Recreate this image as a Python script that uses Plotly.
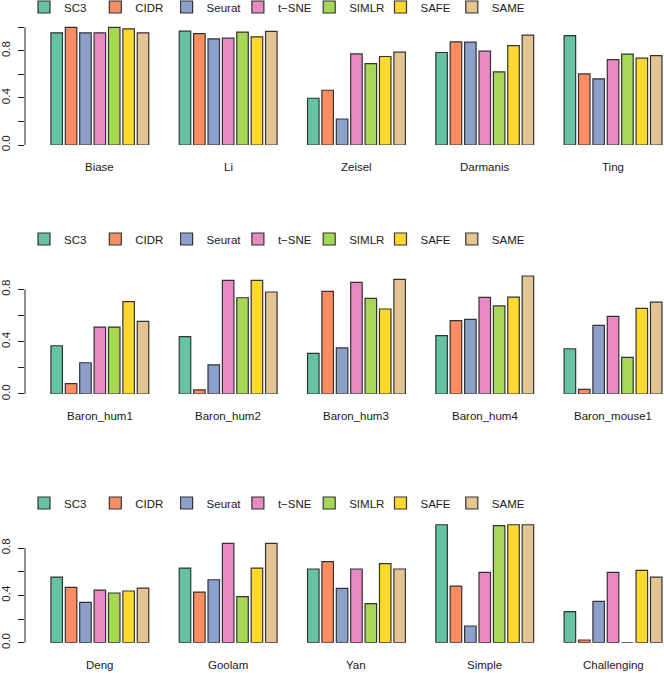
import plotly.graph_objects as go

methods = ["SC3", "CIDR", "Seurat", "t\u2212SNE", "SIMLR", "SAFE", "SAME"]
colors = ["#66C2A5", "#FC8D62", "#8DA0CB", "#E78AC3", "#A6D854", "#FFD92F", "#E5C494"]

row1_datasets = ["Biase", "Li", "Zeisel", "Darmanis", "Ting"]
row1_values = {
    "SC3":    [0.953, 0.967, 0.397, 0.786, 0.930],
    "CIDR":   [1.000, 0.947, 0.465, 0.877, 0.604],
    "Seurat": [0.953, 0.902, 0.221, 0.874, 0.562],
    "t-SNE":  [0.953, 0.908, 0.774, 0.797, 0.726],
    "SIMLR":  [1.000, 0.959, 0.692, 0.621, 0.772],
    "SAFE":   [0.987, 0.919, 0.752, 0.845, 0.738],
    "SAME":   [0.953, 0.965, 0.789, 0.933, 0.760],
}

row2_datasets = ["Baron_hum1", "Baron_hum2", "Baron_hum3", "Baron_hum4", "Baron_mouse1"]
row2_values = {
    "SC3":    [0.369, 0.438, 0.311, 0.446, 0.346],
    "CIDR":   [0.079, 0.031, 0.785, 0.561, 0.036],
    "Seurat": [0.239, 0.222, 0.352, 0.571, 0.525],
    "t-SNE":  [0.512, 0.869, 0.854, 0.739, 0.594],
    "SIMLR":  [0.512, 0.736, 0.731, 0.673, 0.280],
    "SAFE":   [0.706, 0.869, 0.650, 0.741, 0.655],
    "SAME":   [0.555, 0.780, 0.876, 0.902, 0.703],
}

row3_datasets = ["Deng", "Goolam", "Yan", "Simple", "Challenging"]
row3_values = {
    "SC3":    [0.555, 0.631, 0.623, 0.997, 0.262],
    "CIDR":   [0.468, 0.428, 0.685, 0.479, 0.023],
    "Seurat": [0.341, 0.532, 0.459, 0.141, 0.349],
    "t-SNE":  [0.445, 0.839, 0.623, 0.594, 0.594],
    "SIMLR":  [0.420, 0.389, 0.330, 0.989, 0.0],
    "SAFE":   [0.437, 0.631, 0.668, 0.997, 0.611],
    "SAME":   [0.462, 0.839, 0.623, 0.997, 0.555],
}

row1_ticks = [0.0, 0.2, 0.4, 0.6, 0.8, 1.0]
row2_ticks = [0.0, 0.2, 0.4, 0.6, 0.8]
row3_ticks = [0.0, 0.2, 0.4, 0.6, 0.8]

W, H = 664, 673
FONT = "Liberation Sans, Arial, sans-serif"
TXT = "#1a1a1a"

rows = [
    # datasets, values, ticks, zero_px, unit_px, yrange_max, legend_center_px
    (row1_datasets, row1_values, row1_ticks, 145.0, 117.7, 1.04, 7.0),
    (row2_datasets, row2_values, row2_ticks, 394.0, 130.8, 0.94, 239.0),
    (row3_datasets, row3_values, row3_ticks, 642.7, 118.3, 1.04, 503.0),
]
keys = ["SC3", "CIDR", "Seurat", "t-SNE", "SIMLR", "SAFE", "SAME"]

fig = go.Figure()
layout = dict(
    width=W, height=H,
    margin=dict(l=0, r=0, t=0, b=0, autoexpand=False),
    paper_bgcolor="white", plot_bgcolor="white",
    barmode="group", bargap=0.215, bargroupgap=0.2,
    font=dict(family=FONT, size=12, color=TXT),
    shapes=[], annotations=[],
)

# x mapping: group i centre at pixel 99.85 + 128.3*i, plot area from px 25 to 664
x_left_px, x_right_px = 25.0, 664.0
c0, pitch = 99.85, 128.3
xr = [(x_left_px - c0) / pitch, (x_right_px - c0) / pitch]

for r, (datasets, values, ticks, zpx, upx, rmax, legpx) in enumerate(rows):
    idx = "" if r == 0 else str(r + 1)
    xa, ya = "x" + idx, "y" + idx
    legname = "legend" + idx
    for m, key, col in zip(methods, keys, colors):
        fig.add_trace(go.Bar(
            x=list(range(len(datasets))), y=values[key], name=m,
            marker=dict(color=col, line=dict(color="#333333", width=1.2)),
            xaxis=xa, yaxis=ya, legend=legname, showlegend=True,
            hoverinfo="skip",
        ))
    top_px = zpx - rmax * upx
    dom = [1 - zpx / H, 1 - top_px / H]
    layout["xaxis" + idx] = dict(
        domain=[x_left_px / W, 1], range=xr, anchor=ya, automargin=False,
        showgrid=False, zeroline=False, showline=False,
        showticklabels=False, ticks="",
    )
    layout["yaxis" + idx] = dict(
        domain=dom, range=[0, rmax], anchor=xa, automargin=False,
        showgrid=False, zeroline=False, showline=False,
        tickmode="array", tickvals=ticks,
        ticktext=[("%.1f" % t) if i % 2 == 0 and t < 0.95 else "" for i, t in enumerate(ticks)],
        ticks="outside", ticklen=6, tickwidth=1, tickcolor="#222",
        tickangle=-90, tickfont=dict(size=11.5, color=TXT, family=FONT),
        ticklabelstandoff=3,
    )
    layout["shapes"].append(dict(
        type="line", xref=xa + " domain", yref=ya,
        x0=0, x1=0, y0=0, y1=ticks[-1],
        line=dict(color="#222", width=1),
    ))
    for i, d in enumerate(datasets):
        layout["annotations"].append(dict(
            x=i, y=0, xref=xa, yref=ya, text=d, showarrow=False,
            yanchor="middle", xanchor="center", yshift=-22,
            font=dict(size=11.5, color=TXT, family=FONT),
        ))
    layout[legname] = dict(
        orientation="h", x=24 / W, xanchor="left",
        y=1 - legpx / H, yanchor="middle",
        entrywidth=26.3, entrywidthmode="pixels",
        font=dict(size=11.5, color=TXT, family=FONT),
        bgcolor="rgba(0,0,0,0)", borderwidth=0,
        itemclick=False, itemdoubleclick=False,
        tracegroupgap=0,
    )

fig.update_layout(**layout)
fig.write_html(
    "out.html",
    config={"displayModeBar": False},
    post_script="document.body.style.margin='0';document.body.style.padding='0';",
)
